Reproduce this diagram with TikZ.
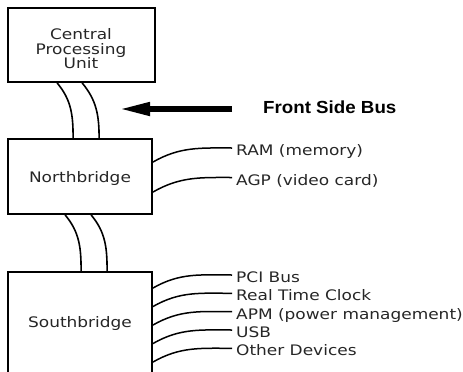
\documentclass[tikz,border=0pt]{standalone}
\usepackage{fontspec}
\usetikzlibrary{arrows.meta}
\newfontfamily\dvsans[FakeStretch=1.17]{DejaVu Sans}
\newfontfamily\lbsans[FakeStretch=1.07]{Liberation Sans}
\begin{document}
\begin{tikzpicture}[x=1pt,y=1pt,
  box/.style={draw, line width=1.8pt, rectangle, inner sep=0pt},
  boxtext/.style={inner sep=0pt, align=center, text=black!85,
    font=\dvsans\fontsize{14.5}{14.5}\selectfont},
  bus/.style={line width=1.6pt},
  wire/.style={line width=1.5pt},
  lbl/.style={anchor=west, inner xsep=4pt, inner ysep=0pt, text height=15pt,
    text depth=0pt, text=black!85, font=\dvsans\fontsize{14.5}{15}\selectfont}]
\useasboundingbox (0,0) rectangle (463,-372);
\clip (0,0) rectangle (463,-372);

% chips
\node[box, minimum width=147pt, minimum height=74pt] (cpu) at (81.5,-45) {};
\node[box, minimum width=144pt, minimum height=75pt] (nb) at (80,-176.5) {};
\node[box, minimum width=144pt, minimum height=120pt] (sb) at (80,-332) {};
\node[boxtext] (cputext) at (81,-49) {Central\\Processing\\Unit};
\node[boxtext] (nbtext) at (80,-178.5) {Northbridge};
\node[boxtext] (sbtext) at (80,-323) {Southbridge};

% front side bus
\draw[bus] ([xshift=50pt]cpu.south west) to[out=-50,in=90] ([xshift=66pt]nb.north west);
\draw[bus] ([xshift=75pt]cpu.south west) to[out=-50,in=90] ([xshift=92pt]nb.north west);
% northbridge to southbridge link
\draw[bus] ([xshift=58pt]nb.south west) to[out=-50,in=90] ([xshift=74pt]sb.north west);
\draw[bus] ([xshift=84pt]nb.south west) to[out=-50,in=90] ([xshift=100pt]sb.north west);

% pointer and its caption
\coordinate (fsbtail) at (232,-109);
\coordinate (fsbhead) at (122,-109);
\draw[line width=6.5pt, -{Triangle[length=28pt,width=14.5pt,line width=0pt]}] (fsbtail) -- (fsbhead);
\node[anchor=base west, inner sep=0pt, font=\lbsans\bfseries\fontsize{17.5}{18}\selectfont]
  (fsb) at (263,-113) {Front Side Bus};

% northbridge devices
\node[lbl] (ram) at (232,-148) {RAM (memory)};
\node[lbl] (agp) at (232,-177.5) {AGP (video card)};
\draw[wire] ([yshift=-24pt]nb.north east) to[out=30,in=180] (ram.west);
\draw[wire] ([yshift=-54pt]nb.north east) to[out=30,in=180] (agp.west);

% southbridge devices
\node[lbl] (pci) at (232,-275) {PCI Bus};
\node[lbl] (rtc) at (232,-293.3) {Real Time Clock};
\node[lbl] (apm) at (232,-311.6) {APM (power management)};
\node[lbl] (usb) at (232,-330) {USB};
\node[lbl] (oth) at (232,-348.3) {Other Devices};
\draw[wire] ([yshift=-17pt]sb.north east) to[out=30,in=180] (pci.west);
\draw[wire] ([yshift=-35.5pt]sb.north east) to[out=30,in=180] (rtc.west);
\draw[wire] ([yshift=-54pt]sb.north east) to[out=30,in=180] (apm.west);
\draw[wire] ([yshift=-72.5pt]sb.north east) to[out=30,in=180] (usb.west);
\draw[wire] ([yshift=-91pt]sb.north east) to[out=30,in=180] (oth.west);
\end{tikzpicture}
\end{document}
